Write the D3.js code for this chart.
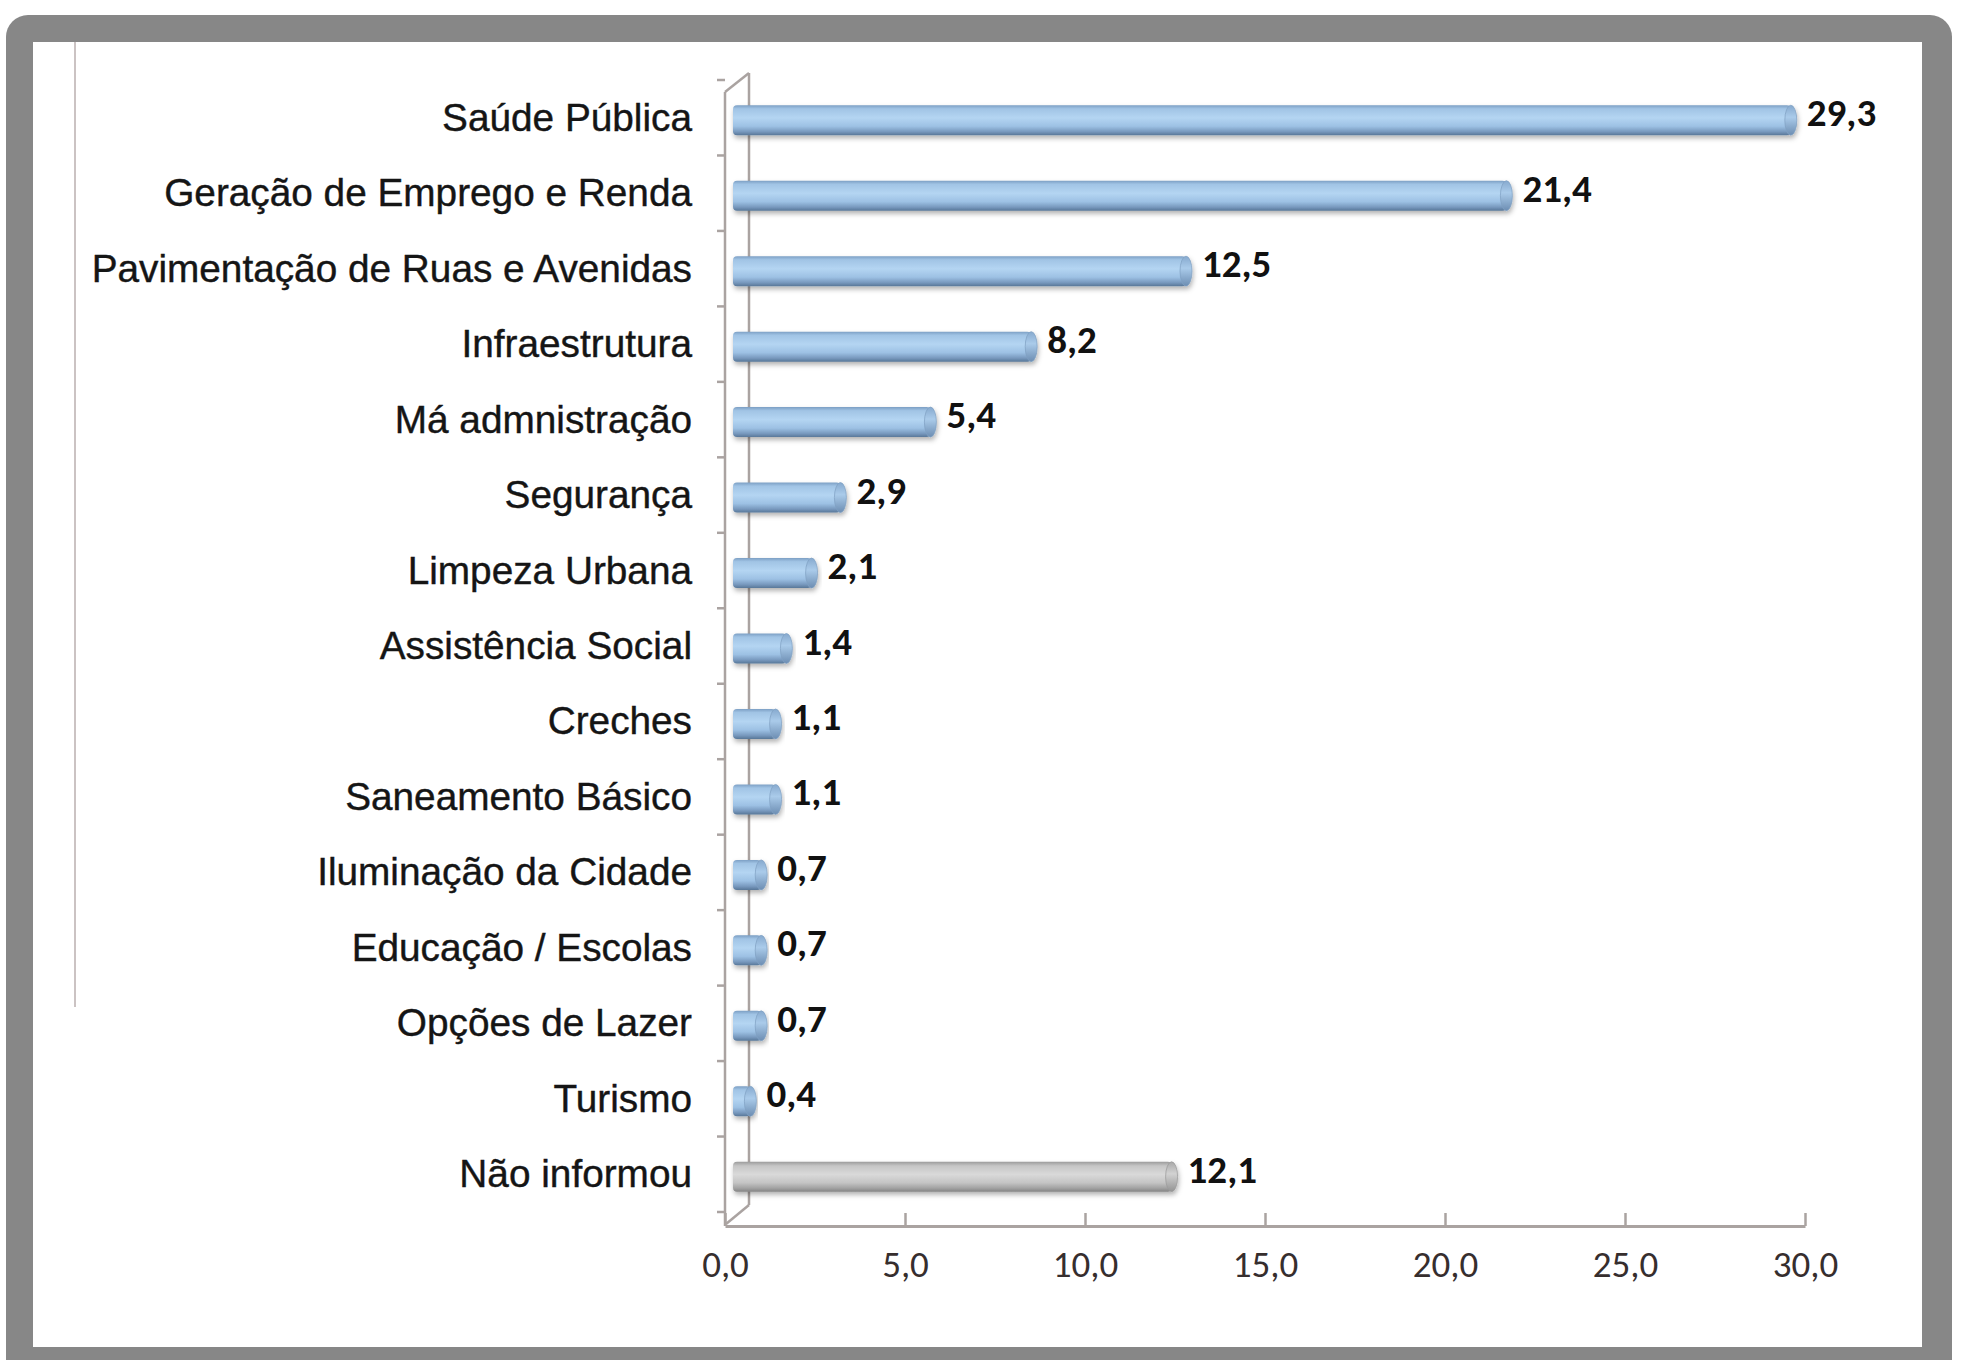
<!DOCTYPE html>
<html>
<head>
<meta charset="utf-8">
<script src="https://cdn.jsdelivr.net/npm/d3@7"></script>
<style>
  html, body { margin: 0; padding: 0; background: #ffffff; }
  svg { display: block; }
</style>
</head>
<body>
<svg id="chart" width="1962" height="1360"></svg>
<script>
// ---- data ----
const categories = [
  "Saúde Pública",
  "Geração de Emprego e Renda",
  "Pavimentação de Ruas e Avenidas",
  "Infraestrutura",
  "Má admnistração",
  "Segurança",
  "Limpeza Urbana",
  "Assistência Social",
  "Creches",
  "Saneamento Básico",
  "Iluminação da Cidade",
  "Educação / Escolas",
  "Opções de Lazer",
  "Turismo",
  "Não informou"
];
const values = [29.3, 21.4, 12.5, 8.2, 5.4, 2.9, 2.1, 1.4, 1.1, 1.1, 0.7, 0.7, 0.7, 0.4, 12.1];
const highlight = [false, false, false, false, false, false, false, false, false, false, false, false, false, false, true];
const xTicks = [0, 5, 10, 15, 20, 25, 30];

const data = categories.map((c, i) => ({ cat: c, val: values[i], gray: highlight[i] }));

const svg = d3.select("#chart");
const fmt = v => v.toFixed(1).replace(".", ",");
const numFont = "Carlito, Calibri, Lato, sans-serif";

// ---- frame ----
svg.append("rect").attr("x", 6).attr("y", 15).attr("width", 1946).attr("height", 1420)
  .attr("rx", 22).attr("fill", "#878787");
svg.append("rect").attr("x", 33).attr("y", 42).attr("width", 1889).attr("height", 1305)
  .attr("fill", "#ffffff");
svg.append("line").attr("x1", 75).attr("x2", 75).attr("y1", 42).attr("y2", 1007)
  .attr("stroke", "#cbc3c3").attr("stroke-width", 2);

// ---- defs ----
const defs = svg.append("defs");
function vgrad(id, stops) {
  const g = defs.append("linearGradient").attr("id", id)
    .attr("x1", 0).attr("y1", 0).attr("x2", 0).attr("y2", 1);
  stops.forEach(s => g.append("stop").attr("offset", s[0]).attr("stop-color", s[1]));
}
vgrad("blueBody", [[0, "#7c9fc4"], [0.12, "#a1c4e5"], [0.42, "#b4d5f2"], [0.7, "#9dc1e4"], [0.88, "#7899be"], [1, "#587798"]]);
vgrad("blueCap", [[0, "#86a9ce"], [0.4, "#aacbea"], [1, "#6c8db2"]]);
vgrad("grayBody", [[0, "#9c9c9c"], [0.14, "#c6c6c6"], [0.42, "#d9d9d9"], [0.7, "#c4c4c4"], [0.88, "#a2a2a2"], [1, "#838383"]]);
vgrad("grayCap", [[0, "#a8a8a8"], [0.4, "#d2d2d2"], [1, "#939393"]]);
const f = defs.append("filter").attr("id", "shadow").attr("x", "-5%").attr("y", "-50%")
  .attr("width", "110%").attr("height", "200%");
f.append("feDropShadow").attr("dx", 1).attr("dy", 3).attr("stdDeviation", 2.5)
  .attr("flood-color", "#000").attr("flood-opacity", 0.3);

// ---- scales ----
const x = d3.scaleLinear().domain([0, 30]).range([725, 1805]);
const y = d3.scaleBand().domain(categories).range([80, 1212]).padding(0);
const depth = 24;          // 3D wall offset
const barH = 30;
const barShift = 2.5;

const axisColor = "#aaa3a1";

// ---- 3D wall / axes ----
const yBot = y.range()[1];
const baseY = 1226;
svg.append("line").attr("x1", x(0) + depth).attr("x2", x(0) + depth)
  .attr("y1", 73).attr("y2", 1205).attr("stroke", axisColor).attr("stroke-width", 2.5);
svg.append("line").attr("x1", x(0)).attr("y1", 92).attr("x2", x(0) + depth).attr("y2", 73)
  .attr("stroke", axisColor).attr("stroke-width", 2.5);
svg.append("line").attr("x1", x(0) + 1).attr("y1", 1224).attr("x2", x(0) + depth).attr("y2", 1205)
  .attr("stroke", axisColor).attr("stroke-width", 2.5);
svg.append("line").attr("x1", x(0)).attr("x2", x(0)).attr("y1", 92).attr("y2", baseY)
  .attr("stroke", axisColor).attr("stroke-width", 2.5);
const bounds = categories.map(c => y(c)).concat([yBot]);
svg.append("g").selectAll("line").data(bounds).join("line")
  .attr("x1", x(0) - 8).attr("x2", x(0)).attr("y1", d => d).attr("y2", d => d)
  .attr("stroke", axisColor).attr("stroke-width", 2.5);

// x axis
const xAxis = d3.axisBottom(x).tickValues(xTicks).tickFormat(fmt)
  .tickSizeInner(-13).tickSizeOuter(0);
const gx = svg.append("g").attr("transform", `translate(0,${baseY})`).call(xAxis);
gx.select(".domain").attr("stroke", axisColor).attr("stroke-width", 3);
gx.selectAll(".tick line").attr("stroke", axisColor).attr("stroke-width", 2.5);
gx.selectAll(".tick text")
  .attr("y", 51).attr("dy", 0)
  .attr("fill", "#362e2e")
  .style("font-family", numFont)
  .style("font-size", "37px");

// ---- bars ----
const gb = svg.append("g");
const barStart = x(0) + 8;
const capRx = 6;
data.forEach(d => {
  const cy = y(d.cat) + y.bandwidth() / 2 + barShift;
  const xe = x(d.val) + 17;
  const g = gb.append("g").attr("filter", "url(#shadow)");
  g.append("rect")
    .attr("x", barStart).attr("y", cy - barH / 2)
    .attr("width", Math.max(2, xe - capRx - barStart)).attr("height", barH)
    .attr("rx", 4)
    .attr("fill", d.gray ? "url(#grayBody)" : "url(#blueBody)");
  g.append("ellipse")
    .attr("cx", xe - capRx).attr("cy", cy).attr("rx", capRx).attr("ry", barH / 2)
    .attr("fill", d.gray ? "url(#grayCap)" : "url(#blueCap)")
    .attr("stroke", d.gray ? "#999" : "#7f9fc2").attr("stroke-width", 1)
    .attr("stroke-opacity", 0.7);
  svg.append("text")
    .attr("x", xe + 10).attr("y", cy + 6)
    .attr("fill", "#111")
    .style("font-family", numFont)
    .style("font-weight", "700")
    .style("font-size", "39px")
    .text(fmt(d.val));
});

// ---- category labels ----
svg.append("g").selectAll("text").data(data).join("text")
  .attr("transform", d => `translate(692,${y(d.cat) + y.bandwidth() / 2 + 13}) scale(1.02,1)`)
  .attr("text-anchor", "end")
  .attr("fill", "#151515")
  .attr("stroke", "#151515").attr("stroke-width", 0.4)
  .style("font-family", "'Liberation Sans', Arial, sans-serif")
  .style("font-size", "38px")
  .text(d => d.cat);
</script>
</body>
</html>
